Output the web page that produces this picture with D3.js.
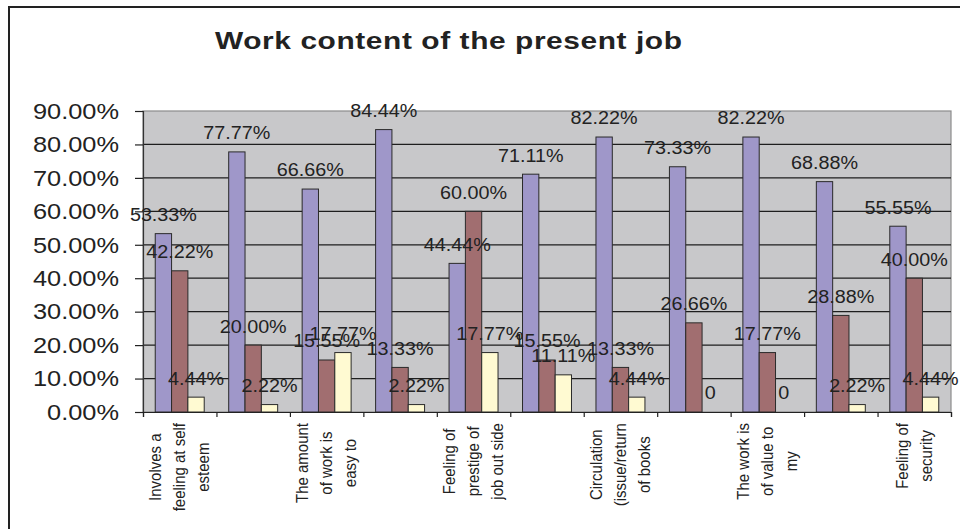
<!DOCTYPE html>
<html>
<head>
<meta charset="utf-8">
<script src="https://cdn.jsdelivr.net/npm/d3@7"></script>
<style>
  body { margin: 0; background: #fff; }
  text { font-family: Arial, "Liberation Sans", sans-serif; fill: #222; }
</style>
</head>
<body>
<div id="chart"></div>
<script>
// chart data (percent values)
var categories = [
  ["Involves a", "feeling at self", "esteem"],
  [],
  ["The amount", "of work is", "easy to"],
  [],
  ["Feeling of", "prestige of", "job out side"],
  [],
  ["Circulation", "(issue/return", "of books"],
  [],
  ["The work is", "of value to", "my"],
  [],
  ["Feeling of", "security"]
];
var series1 = [53.33, 77.77, 66.66, 84.44, 44.44, 71.11, 82.22, 73.33, 82.22, 68.88, 55.55];
var series2 = [42.22, 20.00, 15.55, 13.33, 60.00, 15.55, 13.33, 26.66, 17.77, 28.88, 40.00];
var series3 = [4.44, 2.22, 17.77, 2.22, 17.77, 11.11, 4.44, 0, 0, 2.22, 4.44];
var yTicks = [0, 10, 20, 30, 40, 50, 60, 70, 80, 90];
var colors = ["#9f97c9", "#a16e70", "#fffad2"];

var svgWidth = 960, svgHeight = 529;
var plot = { left: 143, right: 951, top: 111, bottom: 412 };

var svg = d3.select("#chart")
  .append("svg")
  .attr("width", svgWidth)
  .attr("height", svgHeight);

// outer chart frame (only top and left edge visible)
svg.append("path")
  .attr("d", "M9,530 L9,7 L962,7")
  .attr("fill", "none")
  .attr("stroke", "#222")
  .attr("stroke-width", 2);

// title
svg.append("text")
  .attr("transform", "translate(448.5,49) scale(1.3,1)")
  .attr("text-anchor", "middle")
  .attr("font-size", 23)
  .attr("font-weight", "bold")
  .attr("textLength", 467 / 1.3)
  .attr("lengthAdjust", "spacing")
  .text("Work content of the present job");

var x0 = d3.scaleBand()
  .domain(d3.range(categories.length))
  .range([plot.left, plot.right]);

var bw = x0.bandwidth();
var x1 = d3.scaleBand()
  .domain([0, 1, 2])
  .range([bw * (1 / 6), bw * (5 / 6)]);

var y = d3.scaleLinear()
  .domain([0, 90])
  .range([plot.bottom, plot.top]);

// plot area
svg.append("rect")
  .attr("x", plot.left)
  .attr("y", plot.top)
  .attr("width", plot.right - plot.left)
  .attr("height", plot.bottom - plot.top)
  .attr("fill", "#c8c8ca")
  .attr("stroke", "#8c8c8c")
  .attr("stroke-width", 1.2);

// gridlines
svg.selectAll("line.grid")
  .data(yTicks.filter(d => d > 0 && d < 90))
  .enter()
  .append("line")
  .attr("class", "grid")
  .attr("x1", plot.left)
  .attr("x2", plot.right)
  .attr("y1", d => y(d))
  .attr("y2", d => y(d))
  .attr("stroke", "#1e1e1e")
  .attr("stroke-width", 1.2);

// bars
var allSeries = [series1, series2, series3];
var rows = [];
allSeries.forEach(function(s, si) {
  s.forEach(function(v, ci) {
    rows.push({ ci: ci, si: si, v: v });
  });
});

svg.selectAll("rect.bar")
  .data(rows.filter(d => d.v > 0))
  .enter()
  .append("rect")
  .attr("class", "bar")
  .attr("x", d => x0(d.ci) + x1(d.si))
  .attr("y", d => y(d.v))
  .attr("width", x1.bandwidth())
  .attr("height", d => y(0) - y(d.v))
  .attr("fill", d => colors[d.si])
  .attr("stroke", "#2a2a2a")
  .attr("stroke-width", 1);

// y axis
var yAxis = svg.append("g")
  .attr("transform", `translate(${plot.left},0)`)
  .call(d3.axisLeft(y).tickValues(yTicks).tickSize(8).tickFormat(""));
yAxis.select(".domain").attr("stroke", "#333").attr("stroke-width", 1.2);
yAxis.selectAll(".tick line").attr("stroke", "#222").attr("stroke-width", 1.2);

svg.selectAll("text.ylab")
  .data(yTicks)
  .enter()
  .append("text")
  .attr("class", "ylab")
  .attr("transform", d => `translate(119,${y(d) + 7.8}) scale(1.18,1)`)
  .attr("text-anchor", "end")
  .attr("font-size", 21.5)
  .text(d => d3.format(".2%")(d / 100));

// x axis
var xAxis = svg.append("g")
  .attr("transform", `translate(0,${plot.bottom})`)
  .call(d3.axisBottom(d3.scaleLinear().domain([0, categories.length]).range([plot.left, plot.right]))
    .tickValues(d3.range(categories.length + 1)).tickSize(5).tickFormat(""));
xAxis.select(".domain").attr("stroke", "#222").attr("stroke-width", 1.2);
xAxis.selectAll(".tick line").attr("stroke", "#222").attr("stroke-width", 1.2);

// data labels
svg.selectAll("text.dlab")
  .data(rows)
  .enter()
  .append("text")
  .attr("class", "dlab")
  .attr("transform", d => `translate(${x0(d.ci) + x1(d.si) + x1.bandwidth() / 2},${y(d.v) - 12.6}) scale(1.13,1)`)
  .attr("text-anchor", "middle")
  .attr("font-size", 17.5)
  .text(d => d.v === 0 ? "0" : d.v.toFixed(2) + "%");

// category labels, rotated, top-aligned under the axis
var lineGap = 24;
categories.forEach(function(lines, ci) {
  if (!lines.length) return;
  var cx = x0(ci) + bw / 2;
  var g = svg.append("g").attr("class", "xlab");
  var texts = g.selectAll("text")
    .data(lines)
    .enter()
    .append("text")
    .attr("font-size", 15)
    .attr("text-anchor", "middle")
    .text(d => d);
  var maxLen = d3.max(texts.nodes(), n => n.getComputedTextLength());
  var cy = 423 + maxLen / 2;
  texts.attr("transform", function(d, i) {
    var bx = cx + (i - (lines.length - 1) / 2) * lineGap + 5.5;
    return `translate(${bx},${cy}) rotate(-90) scale(1,1.12)`;
  });
});
</script>
</body>
</html>
